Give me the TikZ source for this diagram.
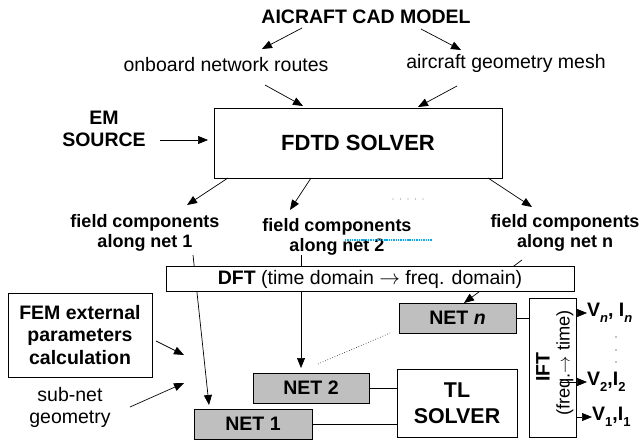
\documentclass[tikz,border=0pt]{standalone}
\usepackage{fontspec}
\setmainfont{Liberation Sans}
\usetikzlibrary{arrows.meta,calc}
\newcommand\lowsub[1]{\raisebox{-0.28em}{\fontsize{13}{13}\selectfont #1}}
\begin{document}
\begin{tikzpicture}[x=1pt,y=-1pt,
  box/.style={draw, line width=0.9pt, inner sep=0pt, align=center},
  netbox/.style={box, fill=black!25, minimum height=30pt, font=\fontsize{19.5}{22}\selectfont\bfseries},
  txt/.style={inner sep=0pt, align=center, font=\fontsize{19.5}{22}\selectfont},
  btxt/.style={inner sep=0pt, align=center, font=\fontsize{19.5}{22}\selectfont\bfseries},
  fld/.style={inner sep=0pt, align=center, font=\fontsize{18}{20.5}\selectfont\bfseries},
  arr/.style={draw, line width=0.7pt, -{Triangle[length=10pt,width=8pt]}},
  link/.style={draw, line width=0.7pt},
]
\useasboundingbox (0,0) rectangle (642,446);

% --- CAD model and the FDTD stage ---
\node[btxt] (cad) at (366,17) {AICRAFT CAD MODEL};
\node[txt] (routes) at (226,65) {onboard network routes};
\node[txt] (mesh) at (506,63) {aircraft geometry mesh};
\node[btxt] (em) at (104,129) {EM\\SOURCE};
\node[box, minimum width=288pt, minimum height=70pt,
      font=\fontsize{22}{26}\selectfont\bfseries] (fdtd) at (358,143) {FDTD SOLVER};

\draw[arr] ($(cad)+(-64,11)$) -- ($(routes)+(36,-16)$);
\draw[arr] ($(cad)+(55,12)$) -- ($(mesh)+(-45,-13)$);
\draw[arr] ($(routes)+(39,20)$) -- ($(fdtd)+(-55,-37)$);
\draw[arr] ($(mesh)+(-49,23)$) -- ($(fdtd)+(60,-36)$);
\draw[arr] ($(em)+(56,11)$) -- ($(fdtd)+(-150,-3)$);

% --- field components per net ---
\node[fld] (f1) at (145,233) {field components\\along net 1};
\node[fld] (f2) at (337,237) {field components\\along net 2};
\node[fld] (fn) at (565,233) {field components\\along net n};

\draw[arr] ($(fdtd)+(-130,35)$) -- ($(f1)+(42,-28)$);
\draw[arr] ($(fdtd)+(-47,35)$) -- ($(f2)+(-47,-27)$);
\draw[arr] ($(fdtd)+(130,35)$) -- ($(fn)+(-33,-26)$);
\foreach \i in {0,...,4} \fill[black!45] (393+7.5*\i,199) circle (0.55pt);
\draw[cyan, line width=1.4pt, dash pattern=on 1.4pt off 0.9pt] (345,240) -- (432,240);

% --- frequency-domain stage ---
\node[draw, double, double distance=1.3pt, line width=0.8pt, inner sep=0pt,
      minimum width=336pt, minimum height=146pt] (outer) at (355,369) {};

\node[box, minimum width=144pt, minimum height=84pt,
      font=\fontsize{19.5}{22.5}\selectfont\bfseries] (fem) at (80,335)
      {FEM external\\parameters\\calculation};
\node[txt] (subnet) at (70,407) {sub-net\\geometry};

\node[netbox, minimum width=116pt] (net2) at (311,388) {NET 2};
\node[netbox, minimum width=118pt] (net1) at (253,424) {NET 1};
\node[netbox, minimum width=117pt] (netn) at (457.5,318) {NET \textit{n}};
\node[box, minimum width=120pt, minimum height=68pt,
      font=\fontsize{21.4}{26}\selectfont\bfseries] (tl) at (457,403) {TL\\SOLVER};
\node[box, minimum width=47pt, minimum height=139pt] (ift) at (552.5,367.5) {};
\node[btxt, rotate=90] (iftlbl) at (543,367) {IFT};
\node[inner sep=0pt, rotate=90, font=\fontsize{18.3}{20}\selectfont] (iftdir) at (565,363)
      {(freq.$\rightarrow$ time)};

\draw[arr] ($(f1)+(48,22)$) -- ($(net1)+(-44,-19)$);
\draw[arr] ($(f2)+(-36,18)$) -- ($(net2)+(-10,-20)$);
\draw[arr] ($(fn)+(-43,27)$) -- ($(netn)+(6.5,-15)$);
\draw[arr] ($(fem)+(76,6)$) -- ($(outer)+(-171,-14)$);
\draw[arr] ($(subnet)+(60,0)$) -- ($(outer)+(-171,14)$);
\draw[line width=0.6pt, dotted] ($(net2)+(7,-24)$) -- ($(netn)+(-67.5,15)$);

% the transform box sits over the three feed lines
\node[box, fill=white, minimum width=408pt, minimum height=25pt,
      font=\fontsize{19.5}{22}\selectfont] (dft) at (370,279)
      {\textbf{DFT} (time domain $\rightarrow$ freq. domain)};

\draw[link] (net2.east) -- (net2.east -| tl.west);
\draw[link] (net1.east) -- (net1.east -| tl.west);
\draw[link] (netn.east) -- (netn.east -| ift.west);
\draw[link] ($(tl.east)+(0,-17)$) -- ($(tl.east)+(0,-17)$ -| ift.west);
\draw[link] ($(tl.east)+(0,19)$) -- ($(tl.east)+(0,19)$ -| ift.west);

% --- time-domain outputs ---
\node[btxt, anchor=west] (vn) at (587,313) {V\lowsub{\textit{n}}, I\lowsub{\textit{n}}};
\node[btxt, anchor=west] (v2) at (587,382) {V\lowsub{2},I\lowsub{2}};
\node[btxt, anchor=west] (v1) at (592,417) {V\lowsub{1},I\lowsub{1}};
\draw[arr] ($(ift.east)+(0,-54.5)$) -- (vn.west);
\draw[arr] ($(ift)+(7.5,14.5)$) -- (v2.west);
\draw[arr] ($(ift.east)+(0,49.5)$) -- (v1.west);
\foreach \y in {337,350,362} \fill (616,\y) circle (0.7pt);
\end{tikzpicture}
\end{document}
